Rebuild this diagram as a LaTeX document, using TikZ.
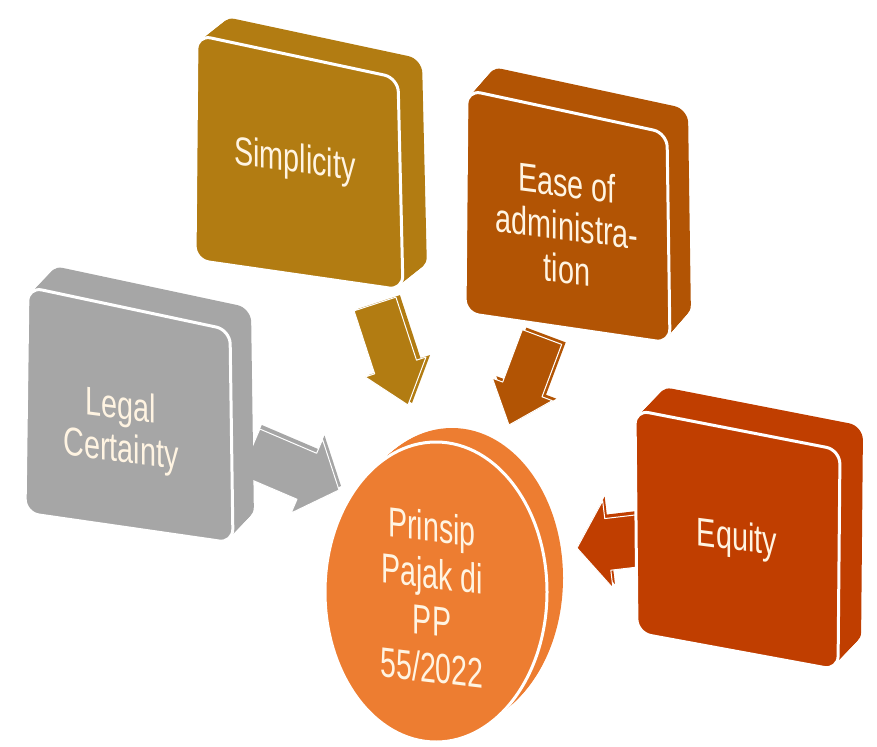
\documentclass[tikz,border=0pt]{standalone}
\usepackage{fontspec}
\setmainfont{Liberation Sans}
\usetikzlibrary{calc}
\definecolor{cSimp}{RGB}{178,124,18}
\definecolor{cEase}{RGB}{178,84,4}
\definecolor{cLegal}{RGB}{166,166,166}
\definecolor{cEq}{RGB}{192,62,0}
\definecolor{cCirc}{RGB}{237,125,49}
\definecolor{cText}{RGB}{255,244,226}
% slab: #1 colour, #2..#5 corners of front face, #6 dx, #7 dy of back
\newcommand{\slabshape}[7]{%
  \foreach \t in {0,0.04,...,1.001}{%
    \fill[#1, rounded corners=14pt, shift={(\t*#6,\t*#7)}] #2 -- #3 -- #4 -- #5 -- cycle;}
  \filldraw[#1, draw=white, line width=3pt, rounded corners=14pt] #2 -- #3 -- #4 -- #5 -- cycle;
}
% block arrow: #1 tail, #2 tip, #3 shaft half width, #4 head half width, #5 head length, #6 colour, #7 side offset
\newcommand{\blockarrow}[7]{%
  \path ($(#2)!#5!(#1)$) coordinate (bn);
  \path ($(#1)!#3!90:(#2)$) coordinate (bs1) ($(#1)!#3!-90:(#2)$) coordinate (bs2)
        ($(bn)!#3!90:(#2)$) coordinate (bn1) ($(bn)!#3!-90:(#2)$) coordinate (bn2)
        ($(bn)!#4!90:(#2)$) coordinate (bh1) ($(bn)!#4!-90:(#2)$) coordinate (bh2);
  \fill[#6] ($(bs1)+#7$) -- ($(bn1)+#7$) -- ($(bh1)+#7$) -- ($(#2)+#7$) -- ($(bh2)+#7$) -- ($(bn2)+#7$) -- ($(bs2)+#7$) -- cycle;
  \filldraw[#6, draw=white, line width=1pt, line join=round] (bs1) -- (bn1) -- (bh1) -- (#2) -- (bh2) -- (bn2) -- (bs2) -- cycle;
}
\tikzset{
  lbl/.style={text=cText, font=\fontsize{40}{43}\selectfont, align=center, inner sep=0pt, yslant=-0.13, xscale=0.72},
  clbl/.style={text=cText, font=\fontsize{42}{47}\selectfont, align=center, inner sep=0pt, yslant=-0.12, xscale=0.68}
}
\begin{document}
\begin{tikzpicture}[x=1pt,y=-1pt]
\useasboundingbox (0,0) rectangle (877,746);
% arrow anchors
\coordinate (sT) at (375,304);
\coordinate (sP) at (408,405);
\coordinate (eT) at (542,337);
\coordinate (eP) at (509,425);
\coordinate (lT) at (250,452);
\coordinate (lP) at (339,490);
\coordinate (qT) at (645,540);
\coordinate (qP) at (577,548);
% arrows
\blockarrow{sT}{sP}{22pt}{32pt}{40pt}{cSimp}{(4,-2)}
\blockarrow{eT}{eP}{21pt}{32pt}{38pt}{cEase}{(4,-2)}
\blockarrow{lT}{lP}{25pt}{40pt}{35pt}{cLegal}{(2,-4)}
\blockarrow{qT}{qP}{26pt}{44pt}{31pt}{cEq}{(2,-4)}
% boxes
\slabshape{cSimp}{(197,35)}{(398,78)}{(403,290)}{(195,260)}{24}{-19}
\slabshape{cEase}{(467,90)}{(667,133)}{(670,343)}{(465,313)}{21}{-24}
\slabshape{cLegal}{(28,287)}{(230,330)}{(233,543)}{(25,513)}{21}{-22}
\slabshape{cEq}{(635,410)}{(840,450)}{(838,670)}{(637,633)}{23}{-24}
% circle
\foreach \t in {0,0.05,...,1.001}{%
  \fill[cCirc, shift={(\t*16,\t*-14)}] (436,592) ellipse [x radius=111pt, y radius=150pt];}
\filldraw[cCirc, draw=white, line width=3pt] (436,592) ellipse [x radius=111pt, y radius=150pt];
% labels
\node[lbl] (simp) at (295,162) {Simplicity};
\node[lbl] (ease) at (567,226) {Ease of\\administra-\\tion};
\node[lbl] (legal) at (121,430) {Legal\\Certainty};
\node[lbl] (equity) at (737,540) {Equity};
\node[clbl] (center) at (432,597) {Prinsip\\Pajak di\\PP\\55/2022};
\end{tikzpicture}
\end{document}
